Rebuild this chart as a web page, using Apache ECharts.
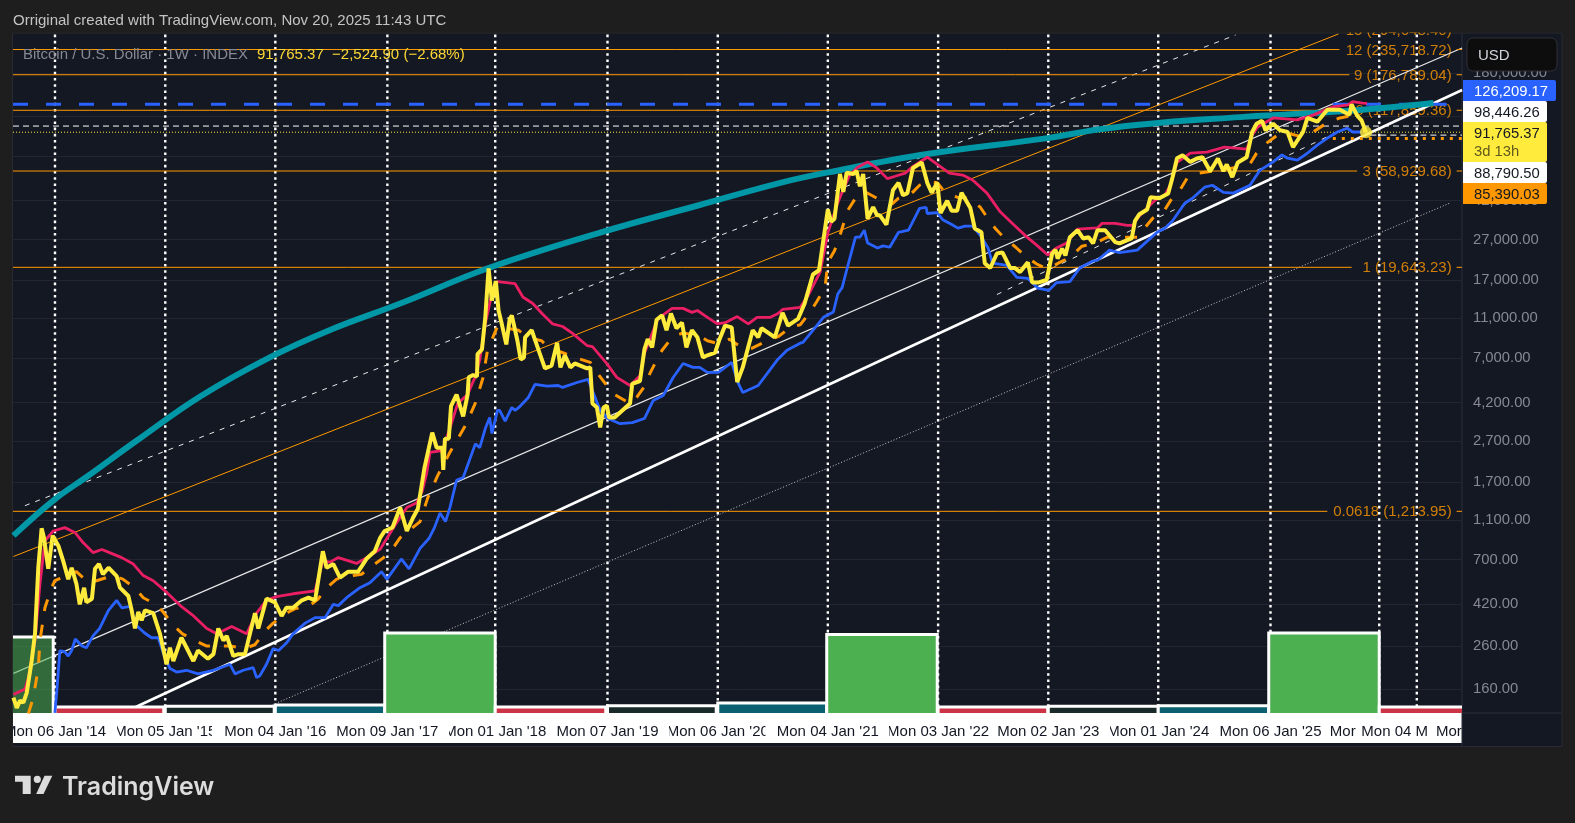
<!DOCTYPE html>
<html lang="en">
<head>
<meta charset="UTF-8">
<title>Bitcoin / U.S. Dollar 1W</title>
<script src="https://cdn.jsdelivr.net/npm/echarts@6/dist/echarts.min.js"></script>
<style>
html,body{height:100%;margin:0;background:#1e1e1e;}
#main{width:1575px;height:823px;}
</style>
</head>
<body>
<div id="main"></div>
<script>
// x values are decimal years, y values are prices in USD
var closePrice = [[2013.64,145],[2013.67,129],[2013.70,140],[2013.73,137],[2013.76,153],[2013.805,220],[2013.835,300],[2013.865,638],[2013.895,1000],[2013.916,900],[2013.955,630],[2013.995,920],[2014.046,820],[2014.09,690],[2014.136,560],[2014.167,638],[2014.21,530],[2014.24,420],[2014.28,508],[2014.30,430],[2014.35,448],[2014.378,630],[2014.414,665],[2014.45,592],[2014.50,638],[2014.574,580],[2014.604,508],[2014.68,462],[2014.71,392],[2014.74,319],[2014.77,385],[2014.80,350],[2014.83,392],[2014.905,380],[2014.966,300],[2015.026,212],[2015.056,256],[2015.087,220],[2015.16,287],[2015.207,256],[2015.268,220],[2015.31,248],[2015.40,226],[2015.45,238],[2015.494,319],[2015.54,278],[2015.57,293],[2015.63,233],[2015.675,238],[2015.735,238],[2015.826,380],[2015.856,319],[2015.93,448],[2016.007,430],[2016.067,368],[2016.11,404],[2016.17,404],[2016.25,440],[2016.31,453],[2016.37,440],[2016.40,560],[2016.44,770],[2016.474,638],[2016.535,665],[2016.595,570],[2016.67,610],[2016.76,610],[2016.835,706],[2016.91,770],[2016.96,900],[2017.00,970],[2017.07,1010],[2017.14,1267],[2017.20,970],[2017.255,1125],[2017.30,1250],[2017.36,2000],[2017.43,2980],[2017.47,2510],[2017.52,2510],[2017.53,1950],[2017.545,2780],[2017.58,2780],[2017.60,4030],[2017.65,4600],[2017.71,3590],[2017.75,4600],[2017.76,5600],[2017.80,5750],[2017.835,5650],[2017.84,7300],[2017.88,7700],[2017.91,11100],[2017.94,19400],[2017.97,13450],[2018.005,16800],[2018.03,12000],[2018.06,10250],[2018.10,8150],[2018.13,10800],[2018.15,11350],[2018.20,8550],[2018.23,6860],[2018.26,7020],[2018.27,8830],[2018.33,9590],[2018.40,7420],[2018.45,6200],[2018.51,6400],[2018.56,8300],[2018.59,6270],[2018.63,7200],[2018.68,6270],[2018.72,6560],[2018.83,6200],[2018.86,6270],[2018.88,4150],[2018.92,3970],[2018.95,3160],[2018.98,3970],[2019.01,4060],[2019.03,3540],[2019.08,3540],[2019.22,4150],[2019.24,5200],[2019.31,5370],[2019.35,7700],[2019.38,8650],[2019.42,7880],[2019.46,10800],[2019.51,11350],[2019.55,9590],[2019.59,11600],[2019.64,9800],[2019.69,10450],[2019.73,7880],[2019.78,9590],[2019.83,8830],[2019.88,7020],[2019.92,7200],[2019.99,7420],[2020.03,8650],[2020.08,10100],[2020.14,9900],[2020.19,5300],[2020.24,6270],[2020.33,9590],[2020.38,8830],[2020.41,9800],[2020.53,8830],[2020.60,11700],[2020.65,10100],[2020.74,10900],[2020.80,13000],[2020.875,18100],[2020.93,19000],[2020.97,26900],[2021.01,38000],[2021.04,33000],[2021.07,34200],[2021.12,57000],[2021.15,46500],[2021.18,57800],[2021.24,57000],[2021.27,59000],[2021.30,49500],[2021.33,57000],[2021.37,34200],[2021.42,39000],[2021.455,35600],[2021.48,35600],[2021.54,32000],[2021.60,47500],[2021.65,51500],[2021.69,44700],[2021.73,45800],[2021.78,61000],[2021.86,65000],[2021.91,51500],[2021.95,46000],[2022.00,51500],[2022.03,36500],[2022.09,42000],[2022.13,37500],[2022.18,37500],[2022.22,46000],[2022.30,38600],[2022.34,30600],[2022.40,29300],[2022.43,20600],[2022.48,19500],[2022.54,23000],[2022.59,23300],[2022.66,19500],[2022.70,19500],[2022.75,18600],[2022.82,20800],[2022.86,16500],[2022.91,16500],[2022.99,17000],[2023.04,23000],[2023.07,24000],[2023.09,21700],[2023.13,24300],[2023.16,22500],[2023.20,27700],[2023.27,30000],[2023.32,27300],[2023.37,27700],[2023.41,25800],[2023.45,30000],[2023.52,30000],[2023.61,26200],[2023.65,25800],[2023.72,26800],[2023.76,27300],[2023.79,33400],[2023.83,36000],[2023.90,38000],[2023.93,43700],[2024.01,43200],[2024.09,45600],[2024.13,55000],[2024.17,68200],[2024.22,70500],[2024.29,65400],[2024.35,68000],[2024.40,69000],[2024.47,58800],[2024.54,68000],[2024.59,58800],[2024.62,63500],[2024.67,55000],[2024.72,65000],[2024.80,69000],[2024.85,92000],[2024.89,101000],[2024.94,104500],[2024.97,94000],[2025.04,101000],[2025.10,94000],[2025.17,92000],[2025.22,77400],[2025.31,92000],[2025.35,108000],[2025.44,103500],[2025.53,118500],[2025.645,118500],[2025.73,112000],[2025.75,126000],[2025.80,111000],[2025.84,105000],[2025.88,91765.37]];

var highAverage = [[2013.64,150],[2013.745,160],[2013.775,182],[2013.835,278],[2013.88,530],[2013.925,868],[2014.00,970],[2014.105,1008],[2014.20,950],[2014.27,850],[2014.36,758],[2014.44,785],[2014.51,758],[2014.62,716],[2014.725,665],[2014.815,583],[2014.905,550],[2015.03,480],[2015.15,414],[2015.27,368],[2015.39,319],[2015.48,300],[2015.615,326],[2015.75,300],[2015.84,380],[2015.93,440],[2016.02,459],[2016.17,474],[2016.37,490],[2016.40,570],[2016.44,690],[2016.505,680],[2016.58,716],[2016.745,670],[2016.835,716],[2016.96,790],[2017.09,1030],[2017.20,1267],[2017.29,1340],[2017.34,1530],[2017.38,1880],[2017.41,2380],[2017.52,2430],[2017.59,3130],[2017.66,4150],[2017.75,4600],[2017.82,5650],[2017.86,6830],[2017.91,10300],[2017.97,14600],[2018.02,16700],[2018.18,16300],[2018.25,14000],[2018.34,13000],[2018.43,11500],[2018.52,10300],[2018.61,10000],[2018.70,9250],[2018.83,8050],[2018.88,7950],[2019.01,6550],[2019.10,5600],[2019.22,5100],[2019.31,5700],[2019.35,7350],[2019.40,8650],[2019.47,10900],[2019.60,12300],[2019.70,12300],[2019.78,11750],[2019.83,12000],[2019.92,11100],[2020.01,10300],[2020.08,10450],[2020.19,11200],[2020.29,10300],[2020.37,11100],[2020.49,11100],[2020.56,11600],[2020.60,12150],[2020.76,12450],[2020.83,14200],[2020.94,18600],[2021.01,29100],[2021.10,41000],[2021.15,47800],[2021.21,56500],[2021.28,61500],[2021.37,65300],[2021.455,60900],[2021.55,54000],[2021.62,55500],[2021.71,57500],[2021.77,61500],[2021.91,69000],[2022.01,63000],[2022.11,57500],[2022.23,56300],[2022.32,53200],[2022.45,45800],[2022.57,37000],[2022.69,32000],[2022.81,27800],[2022.90,25300],[2023.00,22600],[2023.08,24500],[2023.17,25900],[2023.27,30400],[2023.45,30800],[2023.49,32400],[2023.61,32450],[2023.72,31700],[2023.77,31700],[2023.81,34400],[2023.90,38600],[2023.97,42200],[2024.06,44800],[2024.12,51500],[2024.13,55000],[2024.17,65000],[2024.29,72300],[2024.44,73100],[2024.60,77400],[2024.80,75700],[2024.85,88800],[2024.90,97300],[2025.04,108000],[2025.26,105600],[2025.40,111500],[2025.58,122500],[2025.72,125500],[2025.76,130000],[2025.85,128000],[2025.89,127500]];

var lowAverage = [[2014.015,121.7],[2014.035,162],[2014.06,248],[2014.105,244],[2014.136,233],[2014.167,248],[2014.20,283],[2014.26,261],[2014.30,256],[2014.36,293],[2014.42,319],[2014.50,392],[2014.574,440],[2014.62,404],[2014.695,410],[2014.755,329],[2014.83,302],[2014.89,287],[2014.95,287],[2015.0,238],[2015.056,202],[2015.117,194],[2015.207,198],[2015.31,190],[2015.45,198],[2015.60,212],[2015.645,190],[2015.72,198],[2015.81,204],[2015.84,182],[2015.87,186],[2015.93,212],[2015.99,254],[2016.04,248],[2016.11,270],[2016.17,300],[2016.28,339],[2016.37,361],[2016.46,361],[2016.535,420],[2016.58,414],[2016.655,453],[2016.776,508],[2016.866,538],[2016.97,610],[2017.02,560],[2017.15,705],[2017.22,630],[2017.32,795],[2017.40,890],[2017.45,1008],[2017.50,1190],[2017.55,1080],[2017.59,1267],[2017.65,1730],[2017.71,1785],[2017.82,2620],[2017.86,2510],[2017.91,3120],[2017.95,3540],[2017.97,2950],[2018.02,3840],[2018.04,3840],[2018.09,3400],[2018.15,3970],[2018.18,3840],[2018.22,4000],[2018.30,4450],[2018.36,5170],[2018.47,5060],[2018.57,5100],[2018.61,4990],[2018.74,5280],[2018.84,5470],[2018.95,3840],[2019.02,3500],[2019.13,3300],[2019.24,3340],[2019.35,3500],[2019.43,4300],[2019.52,4550],[2019.61,5590],[2019.70,6560],[2019.79,6270],[2019.85,6270],[2019.92,5920],[2020.02,5920],[2020.14,6640],[2020.20,5220],[2020.24,4710],[2020.38,5100],[2020.55,6800],[2020.64,7630],[2020.76,8270],[2020.785,8340],[2020.89,9800],[2020.97,11100],[2021.06,11800],[2021.10,14500],[2021.14,15630],[2021.18,19000],[2021.26,27700],[2021.30,27700],[2021.34,30000],[2021.37,25900],[2021.46,24500],[2021.51,25100],[2021.57,24700],[2021.65,29300],[2021.74,30000],[2021.84,38500],[2021.90,38900],[2021.91,36300],[2022.00,36700],[2022.05,33800],[2022.14,31800],[2022.19,30700],[2022.25,31400],[2022.32,31400],[2022.39,28300],[2022.46,24500],[2022.50,20600],[2022.63,20100],[2022.72,17500],[2022.82,17300],[2022.91,15500],[2023.01,15100],[2023.08,16500],[2023.20,16700],[2023.29,19500],[2023.41,21100],[2023.45,21300],[2023.56,23900],[2023.65,23200],[2023.81,23900],[2023.91,26800],[2023.99,29300],[2024.06,30700],[2024.13,33400],[2024.24,40800],[2024.31,43200],[2024.42,49000],[2024.49,50100],[2024.59,46200],[2024.68,45800],[2024.83,50100],[2024.92,59400],[2025.04,65400],[2025.12,70900],[2025.17,68200],[2025.26,66700],[2025.36,73000],[2025.44,79200],[2025.53,85800],[2025.62,92000],[2025.71,96000],[2025.76,92000],[2025.84,92000]];

var closeAverage = [[2013.775,121],[2013.82,145],[2013.865,204],[2013.88,278],[2013.925,404],[2013.985,508],[2014.015,550],[2014.21,610],[2014.32,538],[2014.39,550],[2014.54,583],[2014.63,560],[2014.74,505],[2014.815,453],[2014.93,420],[2014.995,385],[2015.09,329],[2015.17,300],[2015.28,278],[2015.39,261],[2015.51,261],[2015.60,261],[2015.735,254],[2015.825,265],[2015.93,315],[2015.99,339],[2016.13,385],[2016.19,400],[2016.32,414],[2016.40,448],[2016.475,508],[2016.565,560],[2016.715,583],[2016.79,592],[2016.91,665],[2016.99,716],[2017.09,820],[2017.14,899],[2017.32,1080],[2017.39,1420],[2017.48,1830],[2017.59,2380],[2017.73,3230],[2017.82,4170],[2017.89,5590],[2017.93,7630],[2018.02,10000],[2018.21,9590],[2018.29,8830],[2018.42,8500],[2018.48,7880],[2018.63,7350],[2018.72,7030],[2018.86,6640],[2018.92,5920],[2019.01,5100],[2019.07,4640],[2019.22,4150],[2019.28,4450],[2019.37,5220],[2019.40,5860],[2019.46,6800],[2019.51,7630],[2019.60,8830],[2019.70,9300],[2019.85,9000],[2019.92,8500],[2020.03,8200],[2020.12,8650],[2020.24,7800],[2020.32,7800],[2020.46,8500],[2020.56,8900],[2020.67,9900],[2020.76,10200],[2020.85,11800],[2020.91,13300],[2020.985,15630],[2021.01,20800],[2021.07,23700],[2021.12,28300],[2021.15,32000],[2021.19,37600],[2021.26,43200],[2021.35,46400],[2021.455,43200],[2021.59,40400],[2021.65,43200],[2021.77,45800],[2021.84,50100],[2021.92,52500],[2022.00,51500],[2022.05,47800],[2022.18,43700],[2022.28,43200],[2022.39,39000],[2022.45,34800],[2022.53,30400],[2022.60,27700],[2022.71,24700],[2022.79,22500],[2022.90,20400],[2023.00,19200],[2023.11,20800],[2023.20,22000],[2023.31,25000],[2023.43,25900],[2023.54,27700],[2023.64,27700],[2023.81,27700],[2023.86,30000],[2023.95,34400],[2024.06,37900],[2024.13,43700],[2024.20,47800],[2024.26,54200],[2024.36,57500],[2024.54,59400],[2024.72,61600],[2024.83,63800],[2024.89,72300],[2024.98,81000],[2025.08,88800],[2025.17,90800],[2025.31,86800],[2025.40,92000],[2025.53,102300],[2025.645,108000],[2025.73,110300],[2025.84,110300]];

var logCurve = [[2013.64,920],[2014.00,1373],[2014.32,1827],[2014.76,2730],[2015.33,4500],[2015.96,7030],[2016.50,9590],[2017.14,13000],[2017.94,19500],[2018.95,29200],[2019.85,40000],[2020.58,51500],[2021.01,58000],[2021.91,71500],[2023.00,85800],[2023.47,95000],[2024.0,102000],[2024.74,109000],[2025.03,111500],[2025.80,118000],[2026.49,128000]];

// trend lines, each one from [year, price] to [year, price]
var supportLine = [[2014.63,121.6],[2026.75,148500]];
var channelMid = [[2013.64,191],[2026.75,239700]];
var channelUpper = [[2013.744,1295],[2024.70,278100]];
var orangeTrend = [[2013.64,725],[2025.63,281300]];
var lowerDotted = [[2015.81,121.6],[2026.64,40900]];
var recentDashed = [[2022.54,14400],[2025.69,96000]];

var fibNames = ['0.0618','1','3','6','9','12','15'];
var fibPrices = [1213.95,19643.23,58929.68,117859.36,176789.04,235718.72,294648.40];
var fibLineEnds = [2025.53,2025.75,2025.80,2025.76,2025.73,2025.64,2025.60];

var priceLevels = {ath:126209.17, high:98446.26, last:91765.37, low:88790.50, base:85390.03};

var axisPrices = [160,260,420,700,1100,1700,2700,4200,7000,11000,17000,27000,42000,70000,110000,180000];

var yearTicks = [2014.016,2015.014,2016.01,2017.024,2018.0,2019.016,2020.014,2021.01,2022.008,2023.005,2024.0,2025.016,2026.0,2026.34];
var timeTicks = [2014.016,2015.014,2016.01,2017.024,2018.0,2019.016,2020.014,2021.01,2022.008,2023.005,2024.0,2025.016,2025.67,2026.14,2026.63];
var timeLabels = ["Mon 06 Jan '14","Mon 05 Jan '15","Mon 04 Jan '16","Mon 09 Jan '17","Mon 01 Jan '18","Mon 07 Jan '19","Mon 06 Jan '20","Mon 04 Jan '21","Mon 03 Jan '22","Mon 02 Jan '23","Mon 01 Jan '24","Mon 06 Jan '25","Mor","Mon 04 M","Mor"];

// yearly phase bars: start, end, height
var phaseBars = [[2013.5,2014.0,95],[2014.016,2015.0,7.5],[2015.014,2016.0,8.5],[2016.01,2017.0,10],[2017.0,2018.0,100],[2018.0,2019.0,7.5],[2019.016,2020.0,9],[2020.014,2021.0,12.5],[2021.0,2022.0,98],[2022.008,2023.0,7.5],[2023.005,2024.0,8.5],[2024.0,2025.0,9],[2025.0,2026.0,100],[2026.0,2027.0,7.5]];
var phaseColors = ['rgba(76,175,80,0.55)','#cc3344','#1a2a2a','#0a6070','#4caf50','#cc3344','#1a2a2a','#0a6070','#4caf50','#cc3344','#1a2a2a','#0a6070','#4caf50','#cc3344'];

var xMin = 2013.636, xMax = 2026.749, yMin = 121.6, yMax = 283000;
var FONT = '"Liberation Sans", Arial, sans-serif';
var TEXT_SIZE = 15, SCALE_SIZE = 14.8;

function lineSeries(data, color, width, dash, z) {
    return {
        type: 'line',
        data: data,
        z: z,
        silent: true,
        symbol: 'none',
        clip: true,
        animation: false,
        lineStyle: {color: color, width: width, type: dash || 'solid', cap: 'butt'}
    };
}

function levelLine(from, to, price, color, width, dash, z) {
    return lineSeries([[from, price], [to, price]], color, width, dash, z);
}

function tag(y, h, width, fill, text, color) {
    return [
        {type: 'rect', z: 100, shape: {x: 1463, y: y, width: width, height: h, r: [0, 2, 2, 0]}, style: {fill: fill}},
        {type: 'text', z: 101, x: 1474, y: y + 11.5, style: {text: text, fill: color, font: SCALE_SIZE + 'px ' + FONT, verticalAlign: 'middle'}}
    ];
}

// white strip that cuts a crowded time label short
function labelCut(x, width) {
    return {type: 'rect', z: 90, shape: {x: x, y: 714, width: width, height: 29}, style: {fill: '#ffffff'}};
}

var series = [];

// fib level labels sit under everything else
series.push({
    type: 'scatter',
    z: 1,
    silent: true,
    clip: false,
    animation: false,
    symbolSize: 1,
    itemStyle: {color: 'rgba(0,0,0,0)'},
    data: fibPrices.map(function (p) { return [2026.66, p]; }),
    label: {
        show: true,
        position: 'left',
        distance: 0,
        offset: [0, 1],
        color: '#ff9800',
        fontFamily: FONT,
        fontSize: TEXT_SIZE,
        formatter: function (d) {
            var i = d.dataIndex;
            return fibNames[i] + ' (' + fibPrices[i].toLocaleString('en-US', {minimumFractionDigits: 2, maximumFractionDigits: 2}) + ')';
        }
    }
});

yearTicks.forEach(function (t) {
    series.push(lineSeries([[t, yMin], [t, yMax]], '#ffffff', 2.4, [2.6, 3.6], 2));
});

series.push(lineSeries(orangeTrend, '#ff9800', 1, 'solid', 3));
series.push(lineSeries(channelMid, '#e8e8e8', 1.2, 'solid', 3));
series.push(lineSeries(channelUpper, '#e8e8e8', 1, [5, 6], 3));
series.push(lineSeries(recentDashed, '#e8e8e8', 1, [5, 7], 3));
series.push(lineSeries(lowerDotted, '#c8c8c8', 1, [1, 2], 3));
series.push(lineSeries(supportLine, '#ffffff', 2.6, 'solid', 3));

fibPrices.forEach(function (p, i) {
    series.push(levelLine(xMin, fibLineEnds[i], p, '#ff9800', 1, 'solid', 4));
    series.push(levelLine(2026.70, xMax, p, '#ff9800', 1, 'solid', 4));
});
series.push(levelLine(xMin, xMax, priceLevels.high, '#ffffff', 1, [6, 4], 4));
series.push(levelLine(xMin, xMax, priceLevels.last, '#ffeb3b', 1, [1, 2], 4));
series.push(levelLine(2025.92, xMax, priceLevels.low, '#ffffff', 1, [6, 4], 4));
series.push(levelLine(2025.58, xMax, priceLevels.base, '#ff9800', 3, [3, 6], 4));
series.push(levelLine(xMin, 2026.61, priceLevels.ath, '#2962ff', 3, [15, 18], 4));

// yearly bars on the hidden second axis
series.push({
    type: 'custom',
    yAxisIndex: 1,
    z: 5,
    silent: true,
    clip: true,
    animation: false,
    data: phaseBars,
    encode: {x: [0, 1], y: 2},
    renderItem: function (params, api) {
        var a = api.coord([api.value(0), api.value(2)]);
        var b = api.coord([api.value(1), 0]);
        return {
            type: 'rect',
            shape: {x: a[0], y: a[1], width: b[0] - a[0], height: b[1] - a[1] + 6},
            style: {fill: phaseColors[params.dataIndex], stroke: '#ffffff', lineWidth: 3}
        };
    }
});

var curve = lineSeries(logCurve, '#0097a7', 6, 'solid', 6);
curve.smooth = 0.4;
series.push(curve);
series.push(lineSeries(closeAverage, '#ff9800', 3, [12, 14], 7));
series.push(lineSeries(lowAverage, '#2962ff', 2.8, 'solid', 7));
series.push(lineSeries(highAverage, '#e91e63', 2.8, 'solid', 7));
series.push(lineSeries(closePrice, '#ffeb3b', 4, 'solid', 8));
series.push({
    type: 'scatter',
    z: 9,
    silent: true,
    animation: false,
    symbolSize: 12,
    itemStyle: {color: '#ffeb3b'},
    data: [closePrice[closePrice.length - 1]]
});

var graphics = [
    // page bands and panels
    {type: 'rect', z: -1, shape: {x: 12.5, y: 33, width: 1549.5, height: 713.5}, style: {fill: '#141823', stroke: '#2a2b30', lineWidth: 1}},
    {type: 'rect', z: -1, shape: {x: 13, y: 713, width: 1449, height: 30}, style: {fill: '#ffffff'}},
    {type: 'line', z: -1, shape: {x1: 1462, y1: 33, x2: 1462, y2: 746}, style: {stroke: '#2a2e39', lineWidth: 1}},
    {type: 'line', z: -1, shape: {x1: 1462, y1: 713, x2: 1562, y2: 713}, style: {stroke: '#2a2e39', lineWidth: 1}},
    // masks for what runs past the pane
    {type: 'rect', z: 90, shape: {x: 0, y: 0, width: 1575, height: 32.5}, style: {fill: '#1e1e1e'}},
    {type: 'rect', z: 90, shape: {x: 0, y: 713, width: 12.5, height: 34}, style: {fill: '#1e1e1e'}},
    labelCut(112, 5), labelCut(212, 6), labelCut(443, 6), labelCut(662, 7), labelCut(765.5, 5), labelCut(884, 5), labelCut(1105, 5),
    {type: 'text', z: 100, x: 13, y: 21, style: {text: 'Orriginal created with TradingView.com, Nov 20, 2025 11:43 UTC', fill: '#c4c4c4', font: TEXT_SIZE + 'px ' + FONT, verticalAlign: 'middle'}},
    {type: 'text', z: 100, x: 23, y: 55, style: {text: 'Bitcoin / U.S. Dollar · 1W · INDEX', fill: '#868993', font: TEXT_SIZE + 'px ' + FONT, verticalAlign: 'middle'}},
    {type: 'text', z: 100, x: 257, y: 55, style: {text: '91,765.37  −2,524.90 (−2.68%)', fill: '#fdd835', font: TEXT_SIZE + 'px ' + FONT, verticalAlign: 'middle'}},
    // currency button
    {type: 'rect', z: 100, shape: {x: 1467, y: 38, width: 90, height: 33, r: 6}, style: {fill: '#0d0d0d', stroke: '#303136', lineWidth: 1}},
    {type: 'text', z: 101, x: 1478, y: 56, style: {text: 'USD', fill: '#d1d4dc', font: TEXT_SIZE + 'px ' + FONT, verticalAlign: 'middle'}},
    // logo
    {type: 'polygon', z: 100, shape: {points: [[15, 775.7], [30.7, 775.7], [30.7, 794], [22.7, 794], [22.7, 781.7], [15, 781.7]]}, style: {fill: '#dcdcdc'}},
    {type: 'circle', z: 100, shape: {cx: 37.3, cy: 779.3, r: 3.6}, style: {fill: '#dcdcdc'}},
    {type: 'polygon', z: 100, shape: {points: [[44.5, 775.7], [52.3, 775.7], [43.5, 794], [36.2, 794]]}, style: {fill: '#dcdcdc'}},
    {type: 'text', z: 100, x: 62, y: 787, style: {text: 'TradingView', fill: '#dcdcdc', font: '600 25px Inter, ' + FONT, verticalAlign: 'middle'}}
];
graphics = graphics
    .concat(tag(80, 21, 93, '#2962ff', '126,209.17', '#ffffff'))
    .concat(tag(101, 21, 84, '#ffffff', '98,446.26', '#131722'))
    .concat(tag(122, 40, 84, '#ffeb3b', '91,765.37', '#131722'))
    .concat([{type: 'text', z: 101, x: 1474, y: 151.5, style: {text: '3d 13h', fill: '#5f5a1e', font: SCALE_SIZE + 'px ' + FONT, verticalAlign: 'middle'}}])
    .concat(tag(162, 21, 84, '#ffffff', '88,790.50', '#131722'))
    .concat(tag(183, 21, 84, '#ff9800', '85,390.03', '#131722'));

var chart = echarts.init(document.getElementById('main'), null, {renderer: 'canvas'});
chart.setOption({
    backgroundColor: '#1e1e1e',
    animation: false,
    grid: {left: 13, right: 113, top: 33.5, bottom: 110},
    xAxis: {
        type: 'value',
        min: xMin,
        max: xMax,
        splitLine: {show: false},
        axisLine: {show: false},
        axisTick: {show: false},
        axisLabel: {
            customValues: timeTicks,
            margin: 11,
            color: '#131722',
            fontFamily: FONT,
            fontSize: TEXT_SIZE,
            hideOverlap: false,
            showMinLabel: true,
            showMaxLabel: true,
            formatter: function (v) {
                return timeLabels[timeTicks.indexOf(v)] || '';
            }
        }
    },
    yAxis: [{
        type: 'log',
        position: 'right',
        min: yMin,
        max: yMax,
        axisLine: {show: false},
        axisTick: {show: false, customValues: axisPrices},
        splitLine: {show: true, lineStyle: {color: '#232632', width: 1}},
        axisLabel: {
            customValues: axisPrices,
            margin: 11,
            color: '#868993',
            fontFamily: FONT,
            fontSize: SCALE_SIZE,
            padding: [2, 0, 0, 0],
            formatter: function (v) {
                return Number(v).toLocaleString('en-US', {minimumFractionDigits: 2, maximumFractionDigits: 2});
            }
        }
    }, {
        type: 'value',
        show: false,
        min: 0,
        max: 849,
        splitLine: {show: false}
    }],
    graphic: {elements: graphics},
    series: series
});
</script>
</body>
</html>
